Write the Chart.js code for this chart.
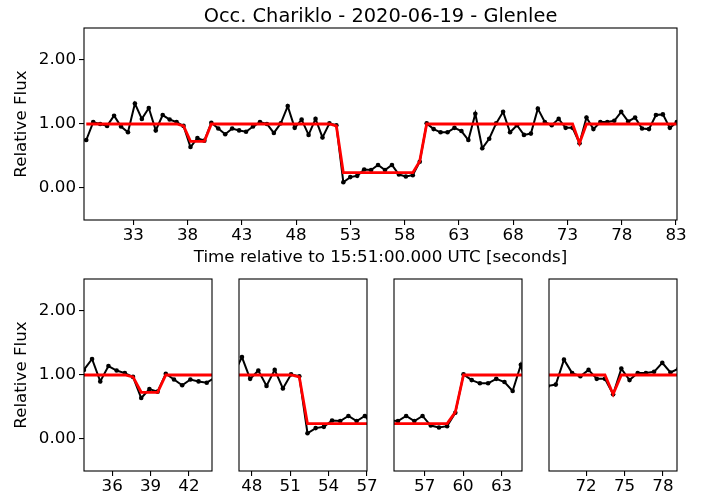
<!DOCTYPE html>
<html lang="en">
<head>
  <meta charset="UTF-8" />
  <title>Occ. Chariklo - 2020-06-19 - Glenlee</title>
  <script src="https://cdn.jsdelivr.net/npm/chart.js"></script>
  <style>
    html, body { margin: 0; padding: 0; background: #fff; }
    body { width: 707px; height: 499px; position: relative; overflow: hidden; }
    canvas { position: absolute; }
  </style>
</head>
<body>

  <canvas id="mainChart" width="707" height="275" style="left:0px;top:0px"></canvas>
  <canvas id="zoom1" width="230" height="249" style="left:0px;top:250px"></canvas>
  <canvas id="zoom2" width="168" height="249" style="left:219px;top:250px"></canvas>
  <canvas id="zoom3" width="168" height="249" style="left:374px;top:250px"></canvas>
  <canvas id="zoom4" width="168" height="249" style="left:529px;top:250px"></canvas>

  <script>
    // observation times (s after 15:51:00 UTC)
    const times = [
      28.67, 29.31, 29.95, 30.59, 31.23, 31.87, 32.51, 33.15, 33.79, 34.43,
      35.07, 35.71, 36.35, 36.99, 37.63, 38.27, 38.91, 39.55, 40.19, 40.83,
      41.47, 42.11, 42.75, 43.39, 44.03, 44.67, 45.31, 45.95, 46.59, 47.23,
      47.87, 48.51, 49.15, 49.79, 50.43, 51.07, 51.71, 52.35, 52.99, 53.63,
      54.27, 54.91, 55.55, 56.19, 56.83, 57.47, 58.11, 58.75, 59.39, 60.03,
      60.67, 61.31, 61.95, 62.59, 63.23, 63.87, 64.51, 65.15, 65.79, 66.43,
      67.07, 67.71, 68.35, 68.99, 69.63, 70.27, 70.91, 71.55, 72.19, 72.83,
      73.47, 74.11, 74.75, 75.39, 76.03, 76.67, 77.31, 77.95, 78.59, 79.23,
      79.87, 80.51, 81.15, 81.79, 82.43, 83.07
    ];

    // observed relative flux
    const flux = [
      0.75, 1.03, 1.00, 0.97, 1.13, 0.96, 0.87, 1.32, 1.08, 1.25,
      0.90, 1.14, 1.07, 1.03, 0.97, 0.64, 0.78, 0.74, 1.02, 0.93,
      0.84, 0.93, 0.90, 0.88, 0.96, 1.03, 1.00, 0.86, 1.01, 1.28,
      0.94, 1.07, 0.83, 1.08, 0.79, 1.01, 0.98, 0.09, 0.17, 0.19,
      0.29, 0.28, 0.36, 0.28, 0.36, 0.21, 0.18, 0.20, 0.41, 1.01,
      0.92, 0.87, 0.87, 0.94, 0.89, 0.75, 1.16, 0.62, 0.77, 1.01,
      1.19, 0.87, 0.98, 0.83, 0.85, 1.24, 1.03, 0.98, 1.08, 0.94,
      0.94, 0.70, 1.10, 0.92, 1.03, 1.03, 1.05, 1.19, 1.04, 1.10,
      0.93, 0.92, 1.14, 1.15, 0.94, 1.03
    ];

    // model light curve
    const model = [
      1.00, 1.00, 1.00, 1.00, 1.00, 1.00, 1.00, 1.00, 1.00, 1.00,
      1.00, 1.00, 1.00, 1.00, 0.97, 0.73, 0.73, 0.73, 1.00, 1.00,
      1.00, 1.00, 1.00, 1.00, 1.00, 1.00, 1.00, 1.00, 1.00, 1.00,
      1.00, 1.00, 1.00, 1.00, 1.00, 1.00, 0.97, 0.24, 0.24, 0.24,
      0.24, 0.24, 0.24, 0.24, 0.24, 0.24, 0.24, 0.24, 0.42, 1.00,
      1.00, 1.00, 1.00, 1.00, 1.00, 1.00, 1.00, 1.00, 1.00, 1.00,
      1.00, 1.00, 1.00, 1.00, 1.00, 1.00, 1.00, 1.00, 1.00, 1.00,
      1.00, 0.70, 1.00, 1.00, 1.00, 1.00, 1.00, 1.00, 1.00, 1.00,
      1.00, 1.00, 1.00, 1.00, 1.00, 1.00
    ];

    const mainRange = [28.46, 83.09];
    const mainTicks = [33, 38, 43, 48, 53, 58, 63, 68, 73, 78, 83];
    const yRange = [-0.5, 2.5];
    const yTicks = [0, 1, 2];

    const zoomRanges = [[33.8, 43.8], [47, 57], [54.6, 64.6], [69.1, 79.1]];
    const zoomTicks = [[36, 39, 42], [48, 51, 54, 57], [57, 60, 63], [72, 75, 78]];

    const FONT = 'DejaVu Sans';

    const fluxPts = times.map((t, i) => ({ x: t, y: flux[i] }));
    const modelPts = times.map((t, i) => ({ x: t, y: model[i] }));

    // matplotlib style box around the plot area
    const framePlugin = {
      id: 'frame',
      afterDatasetsDraw(chart) {
        const { ctx, chartArea: a } = chart;
        ctx.save();
        ctx.strokeStyle = '#000';
        ctx.lineWidth = 1.1;
        ctx.strokeRect(a.left, a.top, a.right - a.left, a.bottom - a.top);
        ctx.restore();
      }
    };

    // title centred over the plot area (matplotlib set_title)
    const axTitlePlugin = {
      id: 'axTitle',
      afterDraw(chart, args, opts) {
        if (!opts.text) return;
        const { ctx, chartArea: a } = chart;
        ctx.save();
        ctx.fillStyle = '#000';
        ctx.font = '19.4px "' + FONT + '"';
        ctx.textAlign = 'center';
        ctx.textBaseline = 'alphabetic';
        ctx.fillText(opts.text, (a.left + a.right) / 2, a.top - 6);
        ctx.restore();
      }
    };

    const tickGrid = { drawOnChartArea: false, drawTicks: true, tickLength: 5, color: '#000', lineWidth: 1.1 };

    function makeChart(id, cfg) {
      const xScale = {
        type: 'linear',
        min: cfg.xRange[0],
        max: cfg.xRange[1],
        afterBuildTicks: s => { s.ticks = cfg.xTicks.map(v => ({ value: v })); },
        afterFit: s => { s.height = cfg.xHeight; s.paddingLeft = 0; s.paddingRight = 0; },
        grid: tickGrid,
        border: { display: false },
        ticks: {
          color: '#000', font: { family: FONT, size: 16.7 }, padding: 1,
          maxRotation: 0, autoSkip: false, callback: v => String(v)
        },
        title: {
          display: !!cfg.xTitle, text: cfg.xTitle || '', color: '#000',
          font: { family: FONT, size: 16.7 }, padding: { top: 0, bottom: 7 }
        }
      };

      const yScale = {
        type: 'linear',
        display: cfg.showY,
        min: yRange[0],
        max: yRange[1],
        afterBuildTicks: s => { s.ticks = yTicks.map(v => ({ value: v })); },
        afterFit: s => { s.width = cfg.showY ? 84 : 0; s.paddingTop = 0; s.paddingBottom = 0; },
        grid: tickGrid,
        border: { display: false },
        ticks: { color: '#000', font: { family: FONT, size: 16.7 }, padding: 3, callback: v => v.toFixed(2) },
        title: {
          display: true, text: 'Relative Flux', color: '#000',
          font: { family: FONT, size: 16.7 }, padding: { top: 12, bottom: 0 }
        }
      };

      return new Chart(document.getElementById(id), {
        type: 'line',
        data: {
          datasets: [
            { label: 'Model', data: modelPts, borderColor: '#ff0000', borderWidth: 2.8,
              pointRadius: 0, tension: 0, clip: 0, order: 0 },
            { label: 'Obs.', data: fluxPts, borderColor: '#000', borderWidth: 2,
              pointRadius: 2.3, pointBackgroundColor: '#000', pointBorderWidth: 0,
              tension: 0, clip: 0, order: 1 }
          ]
        },
        options: {
          responsive: false,
          animation: false,
          events: [],
          layout: { padding: cfg.padding },
          plugins: {
            legend: { display: false },
            tooltip: { enabled: false },
            title: { display: false },
            axTitle: { text: cfg.title || '' }
          },
          scales: { x: xScale, y: yScale }
        },
        plugins: [framePlugin, axTitlePlugin]
      });
    }

    makeChart('mainChart', {
      title: 'Occ. Chariklo - 2020-06-19 - Glenlee',
      xTitle: 'Time relative to 15:51:00.000 UTC [seconds]',
      xRange: mainRange, xTicks: mainTicks, xHeight: 55, showY: true,
      padding: { left: 0, right: 30, top: 28, bottom: 0 }
    });

    makeChart('zoom1', {
      xRange: zoomRanges[0], xTicks: zoomTicks[0], xHeight: 28, showY: true,
      padding: { left: 0, right: 18, top: 29, bottom: 0 }
    });

    ['zoom2', 'zoom3', 'zoom4'].forEach((id, k) => {
      makeChart(id, {
        xRange: zoomRanges[k + 1], xTicks: zoomTicks[k + 1], xHeight: 28, showY: false,
        padding: { left: 20, right: 20, top: 29, bottom: 0 }
      });
    });
  </script>

</body>
</html>
